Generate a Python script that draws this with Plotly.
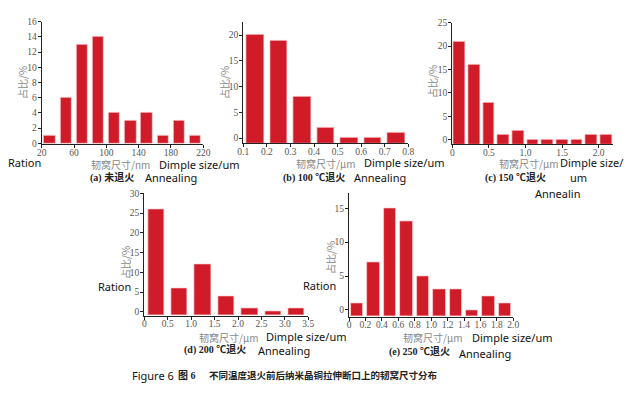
import plotly.graph_objects as go

# ---- data ----
a_x = [30, 50, 70, 90, 110, 130, 150, 170, 190, 210]
a_y = [1, 6, 13, 14, 4, 3, 4, 1, 3, 1]
a_ticks = [20, 60, 100, 140, 180, 220]
a_yticks = [0, 2, 4, 6, 8, 10, 12, 14, 16]

b_x = [0.15, 0.25, 0.35, 0.45, 0.55, 0.65, 0.75]
b_y = [20, 19, 8, 2, 0, 0, 1]
b_ticks = [0.1, 0.2, 0.3, 0.4, 0.5, 0.6, 0.7, 0.8]
b_yticks = [0, 5, 10, 15, 20]

c_x = [0.1, 0.3, 0.5, 0.7, 0.9, 1.1, 1.3, 1.5, 1.7, 1.9, 2.1]
c_y = [21, 16, 8, 1, 2, 0, 0, 0, 0, 1, 1]
c_ticks = [0, 0.5, 1.0, 1.5, 2.0]
c_ticklabels = ["0", "0.5", "1.0", "1.5", "2.0"]
c_yticks = [0, 5, 10, 15, 20, 25]

d_x = [0.25, 0.75, 1.25, 1.75, 2.25, 2.75, 3.25]
d_y = [26, 6, 12, 4, 1, 0, 1]
d_ticks = [0, 0.5, 1.0, 1.5, 2.0, 2.5, 3.0, 3.5]
d_ticklabels = ["0", "0.5", "1.0", "1.5", "2.0", "2.5", "3.0", "3.5"]
d_yticks = [0, 5, 10, 15, 20, 25, 30]

e_x = [0.1, 0.3, 0.5, 0.7, 0.9, 1.1, 1.3, 1.5, 1.7, 1.9]
e_y = [1, 7, 15, 13, 5, 3, 3, 0, 2, 1]
e_ticks = [0, 0.2, 0.4, 0.6, 0.8, 1.0, 1.2, 1.4, 1.6, 1.8, 2.0]
e_ticklabels = ["0", "0.2", "0.4", "0.6", "0.8", "1.0", "1.2", "1.4", "1.6", "1.8", "2.0"]
e_yticks = [0, 5, 10, 15]

OFF = 8  # page body margin
W, H = 636 - OFF, 399 - OFF
BAR = "#d01c29"
EDGE = "rgba(255,210,210,0.9)"
TICKFONT = dict(family="Liberation Serif, DejaVu Serif, serif", size=9.5, color="#555555")

def fx(px):
    return (px - OFF) / W

def fy(py):
    return 1 - (py - OFF) / H

panels = [
    (a_x, a_y, 14, -0.1, 16, [20, 220], (41.7, 203.3), (144.0, 21.7), a_ticks, [str(t) for t in a_ticks], a_yticks),
    (b_x, b_y, 0.074, -1, 22.6, [0.1, 0.8], (243.3, 408.3), (143.3, 21.7), b_ticks, [str(t) for t in b_ticks], b_yticks),
    (c_x, c_y, 0.16, -1, 25, [0, 2.2], (452.3, 613.3), (144.3, 22.7), c_ticks, c_ticklabels, c_yticks),
    (d_x, d_y, 0.35, -1, 30, [0, 3.5], (144.3, 308.3), (315.7, 193.3), d_ticks, d_ticklabels, d_yticks),
    (e_x, e_y, 0.15, -1, 17.2, [0, 2.0], (349.0, 513.3), (316.7, 193.3), e_ticks, e_ticklabels, e_yticks),
]

fig = go.Figure()
layout = {}
for i, (xs, ys, w, base, ymax, xr, xd, yd, tv, tt, yt) in enumerate(panels):
    n = "" if i == 0 else str(i + 1)
    fig.add_trace(go.Bar(
        x=xs, y=[v - base for v in ys], base=base, width=w,
        marker=dict(color=BAR, line=dict(color=EDGE, width=0.8)),
        xaxis="x" + n, yaxis="y" + n, showlegend=False,
    ))
    axcommon = dict(showgrid=False, zeroline=False, showline=True, linecolor="#222222",
                    linewidth=1.2, ticks="outside", ticklen=3, tickcolor="#222222",
                    tickfont=TICKFONT, fixedrange=True, automargin=False)
    layout["xaxis" + n] = dict(axcommon, domain=[fx(xd[0]), fx(xd[1])], range=xr,
                               anchor="y" + n, tickvals=tv, ticktext=tt, ticklabelstandoff=-4)
    layout["yaxis" + n] = dict(axcommon, domain=[fy(yd[0]), fy(yd[1])], range=[base, ymax],
                               anchor="x" + n, tickvals=yt, ticklabelstandoff=-1)

fig.update_layout(**layout)

CJK = "Noto Sans CJK SC"
SANS = "Noto Sans, Open Sans, sans-serif"
SERIF = "Liberation Serif, serif"

def ann(x, y, text, size=11, family=SANS, color="#111111", angle=0, xanchor="left"):
    fig.add_annotation(x=fx(x), y=fy(y), xref="paper", yref="paper", text=text,
                       showarrow=False, font=dict(family=family, size=size, color=color),
                       textangle=angle, xanchor=xanchor, yanchor="middle")

GRAY = "#888888"
for (x, y) in [(22, 82), (225, 83), (432, 82), (125, 262), (330, 258)]:
    ann(x, y, "占比/%", size=10, family=CJK, color=GRAY, angle=-90, xanchor="center")
ann(121, 164, "韧窝尺寸/nm", size=10, family=CJK, color=GRAY, xanchor="center")
ann(325, 163, "韧窝尺寸/μm", size=10, family=CJK, color=GRAY, xanchor="center")
ann(528, 163, "韧窝尺寸/μm", size=10, family=CJK, color=GRAY, xanchor="center")
ann(228, 337, "韧窝尺寸/μm", size=10, family=CJK, color=GRAY, xanchor="center")
ann(432, 337, "韧窝尺寸/μm", size=10, family=CJK, color=GRAY, xanchor="center")
ann(6, 162, "Ration")
ann(157, 164, "Dimple size/um")
ann(362, 162, "Dimple size/um")
ann(558, 162, "Dimple size/")
ann(568, 178, "um")
ann(533, 193, "Annealin")
ann(96, 286, "Ration")
ann(264, 336, "Dimple size/um")
ann(301, 285, "Ration")
ann(470, 337, "Dimple size/um")
ann(88, 178, "<b>(a) 未退火</b>", size=10, family=SERIF + ", " + CJK, color="#222222")
ann(143, 178, "Annealing")
ann(281, 178, "<b>(b) 100 ℃退火</b>", size=10, family=SERIF + ", " + CJK, color="#222222")
ann(352, 178, "Annealing")
ann(483, 178, "<b>(c) 150 ℃退火</b>", size=10, family=SERIF + ", " + CJK, color="#222222")
ann(182, 350, "<b>(d) 200 ℃退火</b>", size=10, family=SERIF + ", " + CJK, color="#222222")
ann(256, 350, "Annealing")
ann(387, 352, "<b>(e) 250 ℃退火</b>", size=10, family=SERIF + ", " + CJK, color="#222222")
ann(457, 353, "Annealing")
ann(130, 375, "Figure 6", size=11)
ann(176, 375, "<b>图 6</b>", size=10, family=SERIF + ", " + CJK, color="#222222")
ann(207, 375, "<b>不同温度退火前后纳米晶铜拉伸断口上的韧窝尺寸分布</b>", size=9.5, family=CJK, color="#222222")

fig.update_layout(width=W, height=H, margin=dict(l=0, r=0, t=0, b=0, autoexpand=False),
                  paper_bgcolor="white", plot_bgcolor="white", bargap=0)
fig.write_html("out.html")
